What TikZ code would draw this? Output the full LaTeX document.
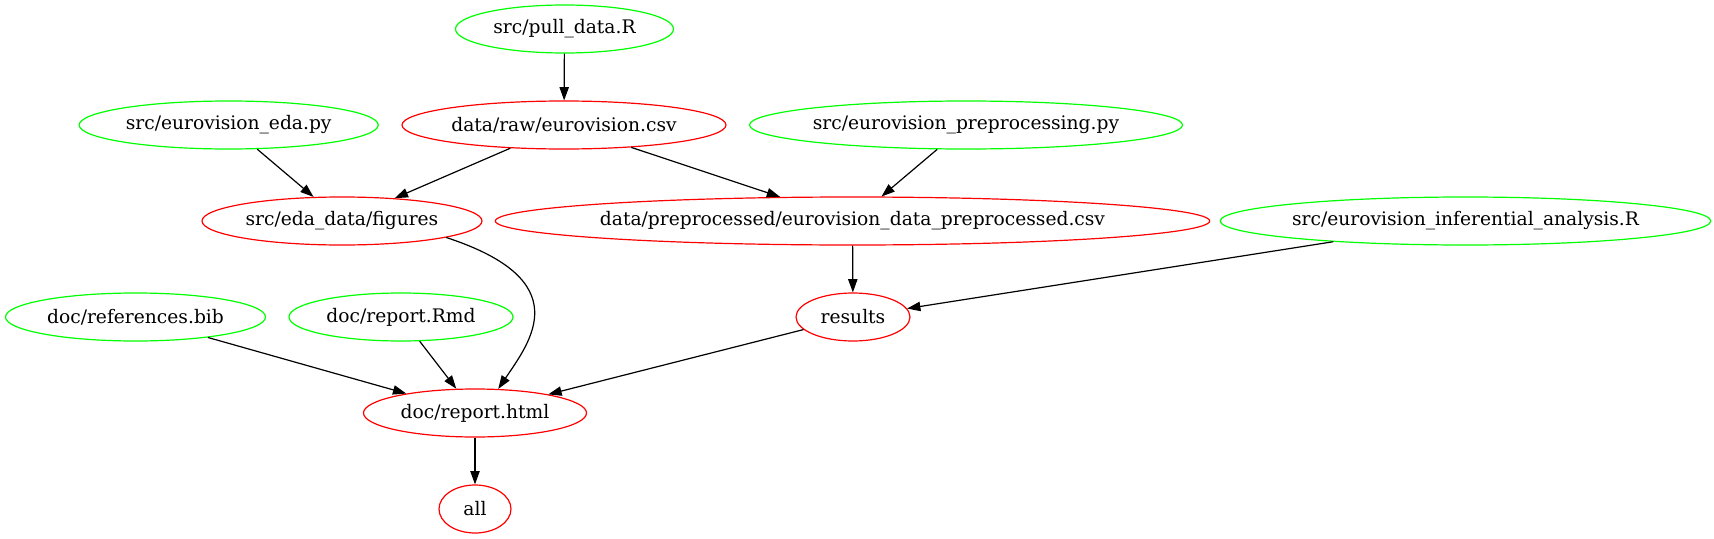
\documentclass[tikz,border=0pt]{standalone}
\usepackage{fontspec}
\setmainfont{DejaVu Serif}
\usetikzlibrary{shapes.geometric,arrows.meta}
\definecolor{gvgreen}{HTML}{00FF00}
\definecolor{gvred}{HTML}{FF0000}
\begin{document}
\begin{tikzpicture}[x=0.75pt,y=-0.75pt,
  gnode/.style={ellipse,draw=#1,line width=0.9pt,inner sep=0pt,minimum height=36pt,font=\fontsize{14pt}{16pt}\selectfont},
  src/.style={gnode=gvgreen},
  tgt/.style={gnode=gvred},
  edge/.style={line width=0.9pt,-{Triangle[length=10pt,width=7pt]}}]
\useasboundingbox (0,0) rectangle (1714,539);
\node[src,minimum width=163.5pt] (pull) at (564.5,29) {src/pull\_data.R};
\node[src,minimum width=224.25pt] (eda) at (228.7,125) {src/eurovision\_eda.py};
\node[tgt,minimum width=243pt] (raw) at (564,125) {data/raw/eurovision.csv};
\node[src,minimum width=324pt] (prep) at (966,125) {src/eurovision\_preprocessing.py};
\node[tgt,minimum width=210pt] (fig) at (342,221) {src/eda\_data/figures};
\node[tgt,minimum width=519.75pt] (pcsv) at (852.5,221) {data/preprocessed/eurovision\_data\_preprocessed.csv};
\node[src,minimum width=363.75pt] (inf) at (1465.5,221) {src/eurovision\_inferential\_analysis.R};
\node[src,minimum width=195pt] (bib) at (135.5,317) {doc/references.bib};
\node[src,minimum width=168pt] (rmd) at (401,317) {doc/report.Rmd};
\node[tgt,minimum width=85.5pt] (res) at (853,317) {results};
\node[tgt,minimum width=167.25pt] (html) at (475,413) {doc/report.html};
\node[tgt,minimum width=54pt] (all) at (475,509) {all};
\draw[edge] (pull) -- (raw);
\draw[edge] (eda) -- (fig);
\draw[edge] (raw) -- (fig);
\draw[edge] (raw) -- (pcsv);
\draw[edge] (prep) -- (pcsv);
\draw[edge] (pcsv) -- (res);
\draw[edge] (inf) -- (res);
\draw[edge] (fig.-9.3) .. controls +(132,43.1) and +(32,-47.5) .. (html.46);
\draw[edge] (bib) -- (html);
\draw[edge] (rmd) -- (html);
\draw[edge] (res) -- (html);
\draw[edge] (html) -- (all);
\end{tikzpicture}
\end{document}
